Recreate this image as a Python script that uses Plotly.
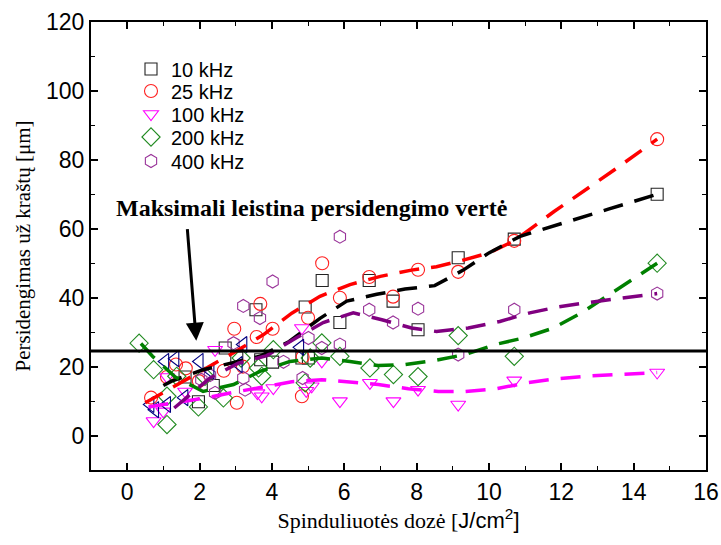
import plotly.graph_objects as go

# ---------------- data ----------------
sq_x = [1.6, 1.97, 2.38, 2.71, 3.03, 3.56, 3.69, 4.02, 4.83, 4.92, 5.01, 5.39, 5.88, 6.69, 7.35, 8.04, 9.15, 10.7, 14.65]
sq_y = [17, 9.8, 14.5, 25.4, 22.5, 36.5, 22, 21.3, 22.5, 37.3, 22.5, 45, 32.8, 45, 39, 30.7, 51.6, 57, 70]

ci_x = [0.66, 1.1, 1.35, 1.62, 1.98, 2.67, 2.96, 3.03, 3.2, 3.58, 3.68, 4.02, 4.83, 4.85, 5.0, 5.39, 5.88, 6.69, 7.35, 8.04, 9.15, 10.7, 14.65]
ci_y = [11, 17, 20.6, 19.5, 15.8, 18.8, 31, 9.5, 20, 28.6, 38.2, 31, 11.4, 22.8, 34.2, 50, 40, 46, 40.3, 48.1, 47.5, 56.5, 86]

td_x = [0.73, 1.0, 1.1, 1.6, 2.43, 3.6, 3.72, 4.04, 4.83, 4.95, 5.1, 5.38, 5.88, 6.71, 7.36, 8.04, 9.15, 10.7, 14.65]
td_y = [4.2, 7, 17, 12.8, 24.9, 12.3, 11.4, 13.8, 31.2, 13, 14.3, 21.5, 10, 15.3, 10, 13.3, 9, 16, 18.3]

di_x = [0.33, 0.73, 1.1, 1.1, 1.37, 1.97, 2.15, 2.66, 3.15, 3.63, 3.72, 4.04, 4.92, 5.06, 5.38, 5.88, 6.71, 7.36, 8.04, 9.15, 10.7, 14.65]
di_y = [26.8, 19.1, 11.4, 3.2, 17.2, 8.3, 17.2, 10.9, 22.5, 19.6, 17.2, 24.9, 15.3, 22.5, 26.9, 23, 19.6, 17.7, 17.1, 29, 23, 50]

hx_x = [2.05, 2.29, 2.43, 2.94, 3.21, 3.21, 3.26, 3.67, 4.02, 4.32, 4.85, 5.01, 5.38, 5.88, 5.88, 6.69, 7.35, 8.04, 9.15, 10.7, 14.65]
hx_y = [16.2, 17.5, 12.4, 26.8, 37.6, 16.7, 13.3, 34.1, 44.7, 21.4, 16.7, 28.3, 25.4, 26.4, 57.7, 36.5, 32.8, 36.8, 23.5, 36.5, 41.2]

tl_x = [0.64, 0.77, 1.05, 1.1, 1.33, 1.58, 2.0, 2.3, 3.08, 3.21, 4.78]
tl_y = [9, 7.5, 21.5, 9, 22.3, 11, 21.5, 18.8, 20.6, 26.4, 25.6]

# smoothed trend lines
red_tx = [0.5, 1.35, 2.2, 3.0, 3.77, 4.55, 5.33, 6.16, 7.0, 7.86, 8.55, 9.15, 10.0, 10.7, 11.8, 12.6, 13.4, 14.65]
red_ty = [9.5, 14.5, 19.5, 24.4, 29.3, 35.5, 40.4, 43.8, 46.2, 48.0, 49.0, 50.5, 53.0, 56.5, 65.0, 70.8, 76.6, 86.0]

blk_tx = [1.0, 1.23, 2.1, 2.85, 3.67, 4.48, 5.33, 6.07, 6.9, 7.68, 8.5, 9.29, 10.0, 10.86, 11.69, 12.5, 13.3, 14.65]
blk_ty = [14.5, 15.8, 19.1, 20.9, 23.0, 27.3, 34.0, 39.0, 41.0, 42.5, 43.5, 48.0, 53.0, 57.8, 60.4, 63.1, 65.7, 70.0]

mag_tx = [0.59, 1.33, 2.15, 2.98, 3.77, 4.55, 5.38, 6.2, 6.94, 7.77, 8.6, 9.34, 10.17, 11.04, 11.82, 12.65, 13.4, 14.65]
mag_ty = [8.3, 9.5, 10.9, 12.6, 14.1, 15.6, 16.2, 15.5, 14.8, 13.6, 12.8, 12.8, 13.5, 15.3, 16.4, 17.2, 17.7, 18.3]

grn_tx = [0.38, 0.7, 1.33, 2.1, 2.94, 3.67, 4.5, 5.38, 6.16, 6.94, 7.68, 8.5, 9.34, 10.17, 10.95, 11.78, 12.56, 13.34, 14.65]
grn_ty = [26.7, 23.0, 17.0, 12.8, 14.8, 18.6, 21.5, 22.5, 21.5, 20.3, 20.6, 21.8, 23.5, 26.4, 28.3, 31.2, 35.6, 40.9, 50.0]

pur_tx = [1.3, 1.45, 2.29, 3.07, 3.86, 4.7, 5.42, 6.25, 7.04, 7.86, 8.55, 9.43, 10.3, 11.13, 11.9, 12.74, 13.53, 14.65]
pur_ty = [8.0, 9.3, 16.7, 21.0, 23.2, 28.5, 32.8, 35.6, 33.6, 31.2, 30.2, 31.2, 33.1, 35.6, 37.3, 38.6, 39.6, 41.2]

limit_value = 24.5
x_ticks = [0, 2, 4, 6, 8, 10, 12, 14, 16]
y_ticks = [0, 20, 40, 60, 80, 100, 120]

# plot area at x 91..706, y 22..470 of the 721x545 page (body margin removed)
W, H = 721, 545
ML, MT = 91, 22
PW, PH = 615, 448

fig = go.Figure()

legend_rows = [69, 91, 114, 137, 161]   # pixel centres of the legend rows
legend_names = ["legend", "legend2", "legend3", "legend4", "legend5"]

def pts(x, y, name, symbol, color, size=11, legend_idx=None):
    kw = {}
    if legend_idx is None:
        kw["showlegend"] = False
    else:
        kw["legend"] = legend_names[legend_idx]
    fig.add_trace(go.Scatter(x=x, y=y, mode="markers", name=name,
                             marker=dict(symbol=symbol, size=size, color=color,
                                         line=dict(color=color, width=1.1)), **kw))

pts(sq_x, sq_y, "10 kHz", "square-open", "#222222", 12, 0)
pts(ci_x, ci_y, "25 kHz", "circle-open", "#FF2020", 13, 1)
pts(td_x, td_y, "100 kHz", "triangle-down-open", "#FF00FF", 13, 2)
pts(di_x, di_y, "200 kHz", "diamond-open", "#228B22", 14, 3)
pts(hx_x, hx_y, "400 kHz", "hexagon-open", "#993399", 13, 4)
pts(tl_x, tl_y, "", "triangle-left-open", "#000080", 14, None)

def trend(x, y, color):
    fig.add_trace(go.Scatter(x=x, y=y, mode="lines", showlegend=False, hoverinfo="skip",
                             line=dict(color=color, width=3.5, dash="20px,12px")))

trend(red_tx, red_ty, "#FF0000")
trend(blk_tx, blk_ty, "#000000")
trend(mag_tx, mag_ty, "#FF00FF")
trend(grn_tx, grn_ty, "#008000")
trend(pur_tx, pur_ty, "#800080")

fig.add_shape(type="line", xref="paper", x0=0, x1=1, yref="y", y0=limit_value, y1=limit_value,
              line=dict(color="black", width=3), layer="above")

fig.add_annotation(x=5.11, y=66.1, xref="x", yref="y", showarrow=False,
                   text="<b>Maksimali leistina persidengimo vertė</b>",
                   font=dict(family="Liberation Serif", size=24, color="black"))
fig.add_annotation(x=1.91, y=27.5, ax=1.66, ay=60.3, xref="x", yref="y", axref="x", ayref="y",
                   text="", showarrow=True, arrowhead=2, arrowsize=1.2, arrowwidth=3, arrowcolor="black")

axis_common = dict(showline=True, linecolor="black", linewidth=2, mirror="allticks",
                   ticks="inside", ticklen=7, tickwidth=1.5, tickcolor="black",
                   showgrid=False, zeroline=False,
                   tickfont=dict(family="Liberation Sans", size=23, color="black"))

fig.update_xaxes(range=[-1, 16], tickvals=x_ticks,
                 minor=dict(dtick=1, ticks="inside", ticklen=4, tickcolor="black", tickwidth=1.2),
                 title=dict(text="Spinduliuotės dozė [<span style='font-family:Liberation Sans'>J/cm<sup>2</sup>]</span>",
                            font=dict(family="Liberation Serif", size=22, color="black"), standoff=8),
                 **axis_common)
fig.update_yaxes(range=[-10, 120], tickvals=y_ticks,
                 minor=dict(dtick=10, ticks="inside", ticklen=4, tickcolor="black", tickwidth=1.2),
                 title=dict(text="Persidengimas už kraštų [μm]",
                            font=dict(family="Liberation Serif", size=21, color="black"), standoff=10),
                 **axis_common)

legend_font = dict(family="Liberation Sans", size=20, color="black")
legend_x = (179 - 48 - ML) / PW
layout_legends = {}
for name, row in zip(legend_names, legend_rows):
    layout_legends[name] = dict(x=legend_x, y=(MT + PH - row) / PH, xanchor="left", yanchor="middle",
                                bgcolor="rgba(0,0,0,0)", font=legend_font, itemwidth=30)

fig.update_layout(
    width=W, height=H,
    margin=dict(l=ML, r=W - ML - PW, t=MT, b=H - MT - PH, autoexpand=False),
    plot_bgcolor="white", paper_bgcolor="white",
    **layout_legends,
)

fig.write_html("out.html", config={"displayModeBar": False},
               post_script="document.body.style.margin='0';document.body.style.overflow='hidden';")
